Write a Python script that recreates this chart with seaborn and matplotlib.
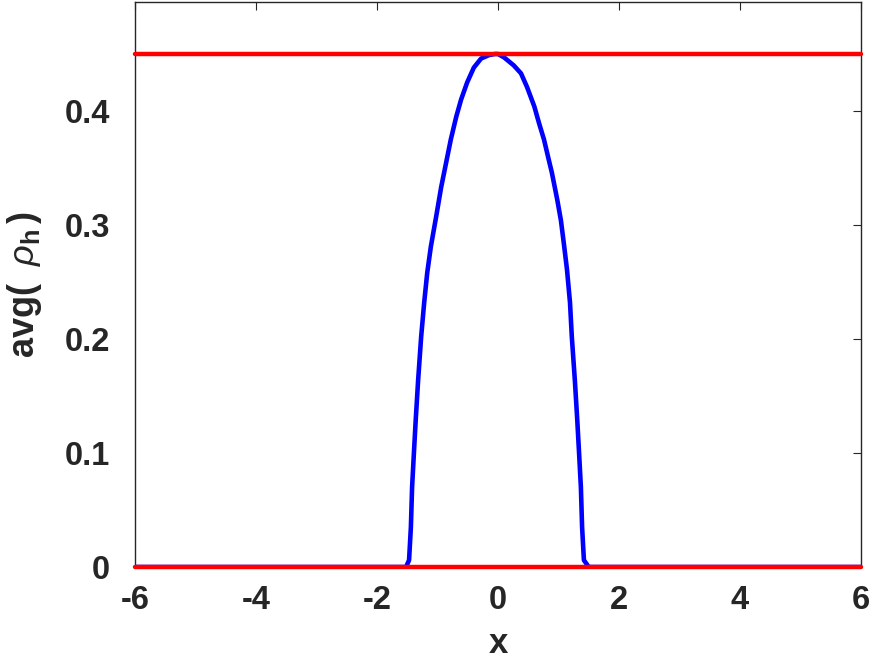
import numpy as np
import pandas as pd
import matplotlib
matplotlib.use("Agg")
import matplotlib.pyplot as plt
import seaborn as sns

# values
x_vals = [-6.0, -1.52, -1.47, -1.44, -1.42, -1.39, -1.36, -1.32, -1.27, -1.22, -1.17, -1.11, -1.06,
          -1.02, -0.94, -0.86, -0.78, -0.69, -0.61, -0.51, -0.40, -0.28, -0.15, -0.05,
          0.0, 0.10, 0.26, 0.38, 0.48, 0.60, 0.68, 0.76, 0.84, 0.89, 0.98, 1.04, 1.09, 1.14,
          1.19, 1.22, 1.27, 1.31, 1.34, 1.37, 1.39, 1.42, 1.50, 6.0]
rho_vals = [0.0, 0.0, 0.006, 0.035, 0.070, 0.100, 0.129, 0.164, 0.202, 0.232, 0.258, 0.281, 0.296,
            0.308, 0.333, 0.354, 0.375, 0.395, 0.410, 0.425, 0.438, 0.446, 0.449, 0.450,
            0.450, 0.447, 0.440, 0.433, 0.421, 0.404, 0.389, 0.375, 0.357, 0.346, 0.322, 0.304, 0.283, 0.261,
            0.232, 0.202, 0.164, 0.129, 0.100, 0.070, 0.035, 0.006, 0.0, 0.0]
bounds = [0.0, 0.45]
x_range = [-6, 6]
x_ticks = [-6, -4, -2, 0, 2, 4, 6]
y_ticks = [0, 0.1, 0.2, 0.3, 0.4]
y_ticklabels = ["0", "0.1", "0.2", "0.3", "0.4"]

sns.set_style("white")
plt.rcParams["font.family"] = ["Liberation Sans", "DejaVu Sans"]
plt.rcParams["mathtext.fontset"] = "custom"
plt.rcParams["mathtext.rm"] = "Liberation Sans"
plt.rcParams["mathtext.it"] = "Liberation Sans:italic"
plt.rcParams["mathtext.bf"] = "Liberation Sans:bold"

df = pd.DataFrame({"x": x_vals, "rho": rho_vals})

fig = plt.figure(figsize=(8.72, 6.6), dpi=100)
ax = fig.add_axes([135/872, 93/660, (861-135)/872, (565)/660])

sns.lineplot(data=df, x="x", y="rho", ax=ax, color="#0000ff", lw=3.3, sort=False)
for b in bounds:
    bl = pd.DataFrame({"x": x_range, "y": [b, b]})
    sns.lineplot(data=bl, x="x", y="y", ax=ax, color="#ff0000", lw=3.2, clip_on=False, zorder=3)

ax.set_xlim(-6, 6)
ax.set_ylim(0, 0.4956)
ax.set_xticks(x_ticks)
ax.set_xticklabels([str(t) for t in x_ticks])
ax.set_yticks(y_ticks)
ax.set_yticklabels(y_ticklabels)

dark = "#262626"
for s in ax.spines.values():
    s.set_visible(True)
    s.set_color(dark)
    s.set_linewidth(1.0)
ax.tick_params(direction="in", length=6, width=0.8, color=dark, top=True, right=True,
               labelsize=23.5, labelcolor=dark)
ax.tick_params(axis="y", pad=18)
ax.tick_params(axis="x", pad=13)
for lab in ax.get_xticklabels() + ax.get_yticklabels():
    lab.set_fontweight("bold")

ax.set_xlabel("x", fontsize=25, fontweight="bold", color=dark, labelpad=8)
ax.set_ylabel(r"avg( $\;\rho_{\mathbf{h}}\,$)", fontsize=26, fontweight="bold", color=dark, labelpad=15)

fig.savefig("out.png", dpi=100)
plt.close()
